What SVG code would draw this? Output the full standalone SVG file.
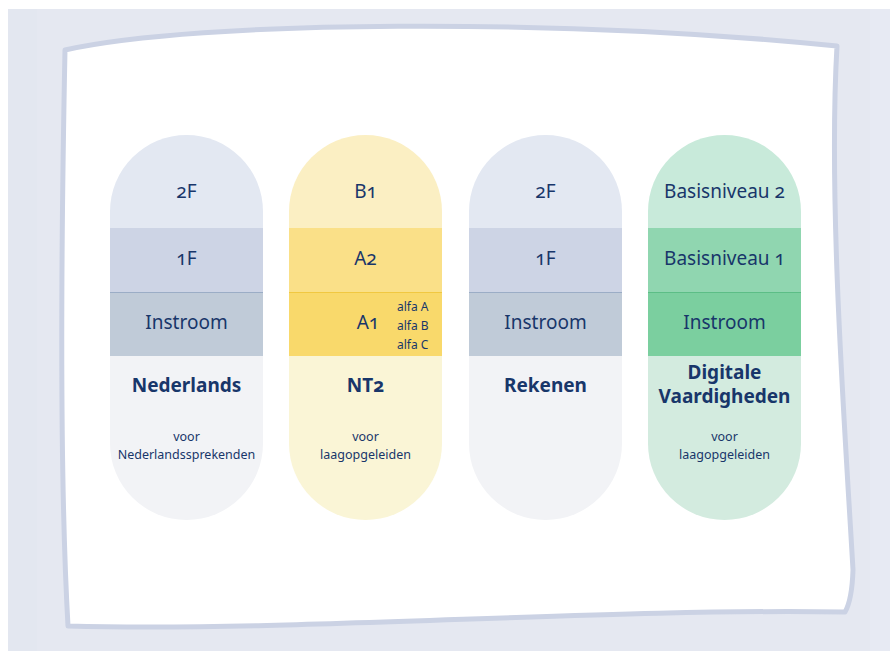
<svg xmlns="http://www.w3.org/2000/svg" width="890" height="651" viewBox="0 0 890 651">
<style>
text{font-family:"Noto Sans","Open Sans","Liberation Sans",sans-serif;fill:#18366a;text-anchor:middle;font-feature-settings:"onum" 1;}
.lvl{font-size:19px;}
.ttl{font-size:19px;font-weight:bold;}
.sub{font-size:12.5px;}
.alfa{font-size:12px;text-anchor:start;}
.b-top{fill:#e3e8f2}.b-1{fill:#cdd4e5}.b-2{fill:#c0cbd8}.b-bot{fill:#f2f3f6}.b-line{stroke:#9badc6}
.y-top{fill:#fbefc3}.y-1{fill:#fae088}.y-2{fill:#f9d96b}.y-bot{fill:#faf5d6}.y-line{stroke:#f1c841}
.g-top{fill:#c8eada}.g-1{fill:#90d6b0}.g-2{fill:#7bcf9f}.g-bot{fill:#d3ebdf}.g-line{stroke:#5cbe86}
</style>
<defs>
<path id="top" d="M0,228 L0,211.5 A76.5,76.5 0 0 1 153,211.5 L153,228 Z"/>
<path id="bot" d="M0,356 L153,356 L153,443.5 A76.5,76.5 0 0 1 0,443.5 Z"/>
</defs>
<rect x="8" y="9" width="882" height="642" fill="#e5e8f1"/>
<rect x="8" y="9" width="29" height="642" fill="#e3e7f0"/>
<rect x="870" y="9" width="20" height="642" fill="#e7eaf3"/>
<path id="frame" d="M65,50 C200,20 560,18 837,46 C828,200 845,430 853,570 Q852,600 845,612 C600,608 300,632 68,626 C58,450 62,200 65,50 Z" fill="#ffffff" stroke="#cbd2e4" stroke-width="5" stroke-linejoin="round"/>

<g id="pill-nederlands" transform="translate(110,0)">
<use href="#top" class="b-top"/>
<rect x="0" y="228" width="153" height="64" class="b-1"/>
<rect x="0" y="292" width="153" height="64" class="b-2"/>
<line x1="0" y1="292.5" x2="153" y2="292.5" class="b-line"/>
<use href="#bot" class="b-bot"/>
<text x="76.5" y="198" class="lvl">2F</text>
<text x="76.5" y="265" class="lvl">1F</text>
<text x="76.5" y="329" class="lvl">Instroom</text>
<text x="76.5" y="392" class="ttl">Nederlands</text>
<text x="76.5" y="441" class="sub">voor</text>
<text x="76.5" y="459" class="sub">Nederlandssprekenden</text>
</g>

<g id="pill-nt2" transform="translate(289,0)">
<use href="#top" class="y-top"/>
<rect x="0" y="228" width="153" height="64" class="y-1"/>
<rect x="0" y="292" width="153" height="64" class="y-2"/>
<line x1="0" y1="292.5" x2="153" y2="292.5" class="y-line"/>
<use href="#bot" class="y-bot"/>
<text x="76.5" y="198" class="lvl">B1</text>
<text x="76.5" y="265" class="lvl">A2</text>
<text x="79" y="329" class="lvl">A1</text>
<text x="108" y="311" class="alfa">alfa A</text>
<text x="108" y="330" class="alfa">alfa B</text>
<text x="108" y="349" class="alfa">alfa C</text>
<text x="76.5" y="392" class="ttl">NT2</text>
<text x="76.5" y="441" class="sub">voor</text>
<text x="76.5" y="459" class="sub">laagopgeleiden</text>
</g>

<g id="pill-rekenen" transform="translate(469,0)">
<use href="#top" class="b-top"/>
<rect x="0" y="228" width="153" height="64" class="b-1"/>
<rect x="0" y="292" width="153" height="64" class="b-2"/>
<line x1="0" y1="292.5" x2="153" y2="292.5" class="b-line"/>
<use href="#bot" class="b-bot"/>
<text x="76.5" y="198" class="lvl">2F</text>
<text x="76.5" y="265" class="lvl">1F</text>
<text x="76.5" y="329" class="lvl">Instroom</text>
<text x="76.5" y="392" class="ttl">Rekenen</text>
</g>

<g id="pill-digitaal" transform="translate(648,0)">
<use href="#top" class="g-top"/>
<rect x="0" y="228" width="153" height="64" class="g-1"/>
<rect x="0" y="292" width="153" height="64" class="g-2"/>
<line x1="0" y1="292.5" x2="153" y2="292.5" class="g-line"/>
<use href="#bot" class="g-bot"/>
<text x="76.5" y="198" class="lvl">Basisniveau 2</text>
<text x="76.5" y="265" class="lvl">Basisniveau 1</text>
<text x="76.5" y="329" class="lvl">Instroom</text>
<text x="76.5" y="379" class="ttl">Digitale</text>
<text x="76.5" y="403" class="ttl">Vaardigheden</text>
<text x="76.5" y="441" class="sub">voor</text>
<text x="76.5" y="459" class="sub">laagopgeleiden</text>
</g>
<g id="connectors"/>
</svg>
